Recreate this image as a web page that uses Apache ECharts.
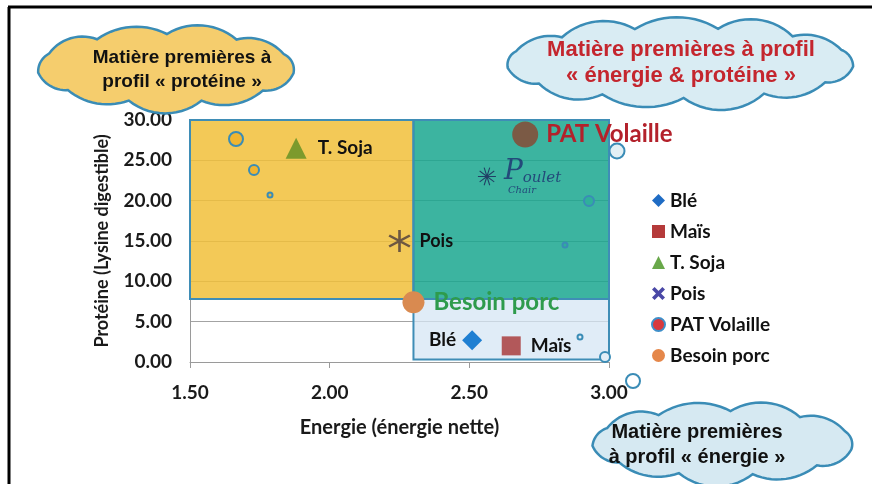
<!DOCTYPE html>
<html>
<head>
<meta charset="utf-8">
<script src="https://cdn.jsdelivr.net/npm/echarts@6/dist/echarts.min.js"></script>
<style>html,body{margin:0;padding:0;background:#fff}#c{width:872px;height:484px}</style>
</head>
<body>
<div id="c"></div>
<script>
// ---- data ----
const categories = ['Blé', 'Maïs', 'T. Soja', 'Pois', 'PAT Volaille', 'Besoin porc'];
const energie   = [2.51, 2.65, 1.88, 2.25, 2.70, 2.30];
const proteine  = [2.7, 2.0, 26.5, 15.0, 28.2, 7.4];
const xTickLabels = ['1.50', '2.00', '2.50', '3.00'];
const yTickLabels = ['0.00', '5.00', '10.00', '15.00', '20.00', '25.00', '30.00'];
const zoneNames = ['protéine', 'énergie & protéine', 'énergie'];
const zoneX0 = [1.5, 2.3, 2.3];
const zoneX1 = [2.3, 3.0, 3.0];
const zoneY0 = [7.8, 7.8, 0.3];
const zoneY1 = [30, 30, 7.8];
const noteName = ['Poulet chair'];
const noteX = [2.563];
const noteY = [23.0];
const cloudTexts = [
  'Matière premières à\nprofil « protéine »',
  'Matière premières à profil\n« énergie & protéine »',
  'Matière premières\nà profil « énergie »'
];

// ---- styles ----
function starPath(angles, w) {
  let d = '';
  angles.forEach(a => {
    const r = a * Math.PI / 180, dx = Math.cos(r), dy = Math.sin(r);
    const px = -dy * w / 2, py = dx * w / 2;
    const pts = [[dx + px, dy + py], [dx - px, dy - py], [-dx - px, -dy - py], [-dx + px, -dy + py]];
    d += 'M' + pts.map(p => p[0].toFixed(3) + ',' + p[1].toFixed(3)).join('L') + 'Z';
  });
  return 'path://' + d;
}
const asterisk = starPath([90, 30, 150], 0.22);
const thinStar = starPath([0, 36, 72, 108, 144], 0.12);
const xIcon = starPath([45, 135], 0.5);

const FONT = 'Lato';
const styles = {
  'Blé':          {symbol: 'diamond', size: 20, color: '#1f7fd2', lpos: 'left',  dist: 6,  lcolor: '#111', lsize: 19},
  'Maïs':         {symbol: 'rect',    size: 19, color: '#b2585a', lpos: 'right', dist: 10, lcolor: '#111', lsize: 19},
  'T. Soja':      {symbol: 'triangle',size: 21, color: '#7c9a2c', lpos: 'right', dist: 11, lcolor: '#111', lsize: 19},
  'Pois':         {symbol: asterisk,  size: 22, color: '#6d5741', lpos: 'right', dist: 9,  lcolor: '#111', lsize: 18},
  'PAT Volaille': {symbol: 'circle',  size: 26, color: '#7b5a45', lpos: 'right', dist: 8,  lcolor: '#b3212b', lsize: 24},
  'Besoin porc':  {symbol: 'circle',  size: 22, color: '#d98a50', lpos: 'right', dist: 9,  lcolor: '#2e9b4c', lsize: 24}
};
const legendStyles = {
  'Blé':          {icon: 'diamond', itemStyle: {color: '#1f6cc4'}},
  'Maïs':         {icon: 'rect', itemStyle: {color: '#b53a3a'}},
  'T. Soja':      {icon: 'triangle', itemStyle: {color: '#69a84a'}},
  'Pois':         {icon: xIcon, itemStyle: {color: '#4a48a6'}},
  'PAT Volaille': {icon: 'circle', itemStyle: {color: '#d8393d', borderColor: '#3f8fc9', borderWidth: 2}},
  'Besoin porc':  {icon: 'circle', itemStyle: {color: '#e5874a'}}
};
const zoneColors = ['rgba(241,192,58,0.85)', 'rgba(26,167,143,0.85)', 'rgba(214,230,244,0.75)'];

// ---- series ----
const series = [];
series.push({
  name: 'zones', type: 'scatter', data: [], z: 1, silent: true,
  markArea: {
    silent: true,
    data: zoneNames.map((n, i) => [
      {name: n, xAxis: zoneX0[i], yAxis: zoneY0[i],
       itemStyle: {color: zoneColors[i], borderColor: '#3f8db6', borderWidth: 2}},
      {xAxis: zoneX1[i], yAxis: zoneY1[i]}
    ]),
    label: {show: false}
  }
});
categories.forEach((c, i) => {
  const s = styles[c];
  series.push({
    name: c, type: 'scatter', z: 3,
    symbol: s.symbol, symbolSize: s.size,
    itemStyle: {color: s.color, opacity: 1},
    label: {show: true, position: s.lpos, distance: s.dist, formatter: c,
            color: s.lcolor, fontFamily: FONT, fontWeight: 'bold', fontSize: s.lsize},
    data: [[energie[i], proteine[i]]]
  });
});
series.push({
  name: noteName[0], type: 'scatter', z: 3,
  symbol: thinStar, symbolSize: 18,
  itemStyle: {color: '#1a2256'},
  label: {show: true, position: 'right', distance: 8,
          formatter: '{p|P}{o|oulet}\n{c|Chair}',
          rich: {
            p: {fontFamily: 'DejaVu Serif', fontSize: 28, color: '#1d3070', fontStyle: 'italic', verticalAlign: 'bottom'},
            o: {fontFamily: 'DejaVu Serif', fontSize: 15, color: '#1d3070', fontStyle: 'italic', verticalAlign: 'bottom'},
            c: {fontFamily: 'DejaVu Serif', fontSize: 10, color: '#1d3070', fontStyle: 'italic', padding: [0, 0, 0, 4]}
          }},
  data: [[noteX[0], noteY[0]]]
});

// ---- decorations (clouds) ----
function cloudPoints(cx, cy, rx, ry, n, off, radii) {
  const pts = [];
  for (let i = 0; i < n; i++) {
    const a = off + 2 * Math.PI * i / n;
    pts.push([cx + rx * Math.cos(a), cy + ry * Math.sin(a)]);
  }
  const out = [];
  for (let i = 0; i < n; i++) {
    const p0 = pts[i], p1 = pts[(i + 1) % n];
    const dx = p1[0] - p0[0], dy = p1[1] - p0[1];
    const c = Math.hypot(dx, dy);
    const r = c * radii[i % radii.length];
    const h = Math.sqrt(Math.max(r * r - c * c / 4, 0));
    const ox = dy / c, oy = -dx / c; // outward normal
    const mx = (p0[0] + p1[0]) / 2, my = (p0[1] + p1[1]) / 2;
    const ccx = mx - ox * h, ccy = my - oy * h;
    const a0 = Math.atan2(p0[1] - ccy, p0[0] - ccx);
    const a1 = Math.atan2(p1[1] - ccy, p1[0] - ccx);
    let d = a1 - a0;
    while (d > Math.PI) d -= 2 * Math.PI;
    while (d <= -Math.PI) d += 2 * Math.PI;
    const steps = 14;
    for (let k = 0; k < steps; k++) {
      const a = a0 + d * k / steps;
      out.push([ccx + r * Math.cos(a), ccy + r * Math.sin(a)]);
    }
  }
  return out;
}
const radiiPat = [0.85, 0.95, 0.8, 1.0, 0.88, 0.92, 0.82, 0.97];
const cloudStroke = '#3a8cb6';
const graphics = [];
function addCloud(cx, cy, rx, ry, n, off, fill, text, tx, ty, color, fs, lh) {
  graphics.push({
    type: 'polygon', z: 100,
    shape: {points: cloudPoints(cx, cy, rx, ry, n, off, radiiPat)},
    style: {fill: fill, stroke: cloudStroke, lineWidth: 2.5}
  });
  graphics.push({
    type: 'text', z: 101, x: tx, y: ty,
    style: {text: text, fill: color, font: 'bold ' + fs + 'px "Liberation Sans", Arial, sans-serif',
            align: 'center', verticalAlign: 'middle', lineHeight: lh}
  });
}
function bubble(x, y, r, fill) {
  graphics.push({type: 'circle', z: 100, shape: {cx: x, cy: y, r: r},
                 style: {fill: fill, stroke: cloudStroke, lineWidth: 2}});
}
addCloud(166, 68, 129, 34, 11, 0.15, '#f5cd6d', cloudTexts[0], 182, 70, '#111', 19, 24);
addCloud(680, 63, 174, 35, 13, 0.1, '#d9ecf3', cloudTexts[1], 681, 63, '#c4262e', 22, 26);
addCloud(723, 443, 131, 32, 11, 0.2, '#d6e9f2', cloudTexts[2], 697, 445, '#111', 20, 25);
bubble(236, 139, 7, '#f1b52f');
bubble(254, 170, 5, '#f1b52f');
bubble(270, 195, 2.5, '#f1b52f');
bubble(617, 151, 7.5, '#e3f0f5');
bubble(589, 201, 5, '#2fb09a');
bubble(565, 245, 2.5, '#2fb09a');
bubble(580, 337, 2.5, '#e3eef7');
bubble(605, 357, 5, '#e3eef7');
bubble(633, 381, 7, '#ffffff');
graphics.push({type: 'line', z: 120, shape: {x1: 8, y1: 7, x2: 872, y2: 7}, style: {stroke: '#000', lineWidth: 3}});
graphics.push({type: 'line', z: 120, shape: {x1: 9, y1: 7, x2: 9, y2: 484}, style: {stroke: '#000', lineWidth: 3}});

const axisLabelStyle = {fontFamily: FONT, fontWeight: 'bold', fontSize: 19, color: '#1a1a1a'};
const option = {
  animation: false,
  backgroundColor: '#ffffff',
  grid: {left: 190, right: 263, top: 120, bottom: 122},
  legend: {
    orient: 'vertical', left: 651, top: 191, padding: 0, itemWidth: 13, itemHeight: 13, itemGap: 12,
    textStyle: {fontFamily: FONT, fontWeight: 'bold', fontSize: 19, color: '#111'},
    data: categories.map(c => Object.assign({name: c}, legendStyles[c]))
  },
  xAxis: {
    type: 'value', min: 1.5, max: 3.0, interval: 0.5,
    axisLine: {show: true, lineStyle: {color: '#9a9a9a'}},
    axisTick: {show: true, length: 6, lineStyle: {color: '#9a9a9a'}},
    splitLine: {show: false},
    axisLabel: Object.assign({margin: 21, formatter: (v) => xTickLabels[Math.round((v - 1.5) / 0.5)]}, axisLabelStyle),
    name: 'Energie (énergie nette)', nameLocation: 'middle', nameGap: 56,
    nameTextStyle: {fontFamily: FONT, fontWeight: 'bold', fontSize: 20, color: '#1a1a1a'}
  },
  yAxis: {
    type: 'value', min: 0, max: 30, interval: 5,
    axisLine: {show: true, lineStyle: {color: '#9a9a9a'}},
    axisTick: {show: false},
    splitLine: {show: true, lineStyle: {color: '#a3a3a3'}},
    axisLabel: Object.assign({margin: 18, formatter: (v) => yTickLabels[Math.round(v / 5)]}, axisLabelStyle),
    name: 'Protéine (Lysine digestible)', nameLocation: 'middle', nameGap: 79, nameRotate: 90,
    nameTextStyle: {fontFamily: FONT, fontWeight: 'bold', fontSize: 18, color: '#1a1a1a'}
  },
  graphic: graphics,
  series: series
};
const chart = echarts.init(document.getElementById('c'), null, {renderer: 'canvas'});
chart.setOption(option);
</script>
</body>
</html>
